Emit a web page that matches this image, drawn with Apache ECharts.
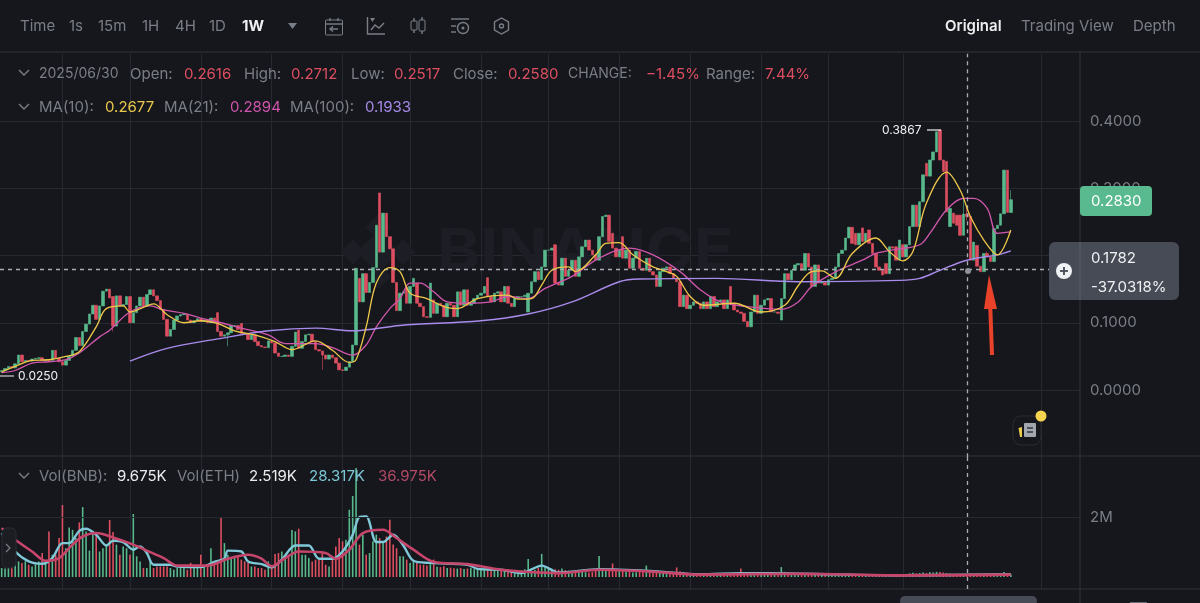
<!DOCTYPE html>
<html><head><meta charset="utf-8">
<script src="https://cdn.jsdelivr.net/npm/echarts@6/dist/echarts.min.js"></script>
<style>html,body{margin:0;padding:0;background:#16171d}#c{width:1200px;height:603px}</style>
</head><body><div id="c"></div>
<script>
const firstOpen = .027;
const closes = [
.029,.032,.035,.033,.039,.052,.042,.044,.043,.046,
.047,.048,.044,.045,.044,.059,.047,.042,.037,.044,
.050,.059,.078,.066,.087,.098,.113,.126,.105,.125,
.147,.150,.137,.095,.140,.125,.127,.139,.100,.115,
.125,.138,.125,.142,.149,.140,.133,.120,.105,.080,
.090,.104,.110,.112,.113,.104,.100,.103,.106,.102,
.104,.100,.107,.100,.087,.080,.082,.085,.096,.096,
.090,.084,.083,.075,.082,.072,.066,.064,.063,.073,
.070,.055,.050,.050,.052,.050,.065,.086,.062,.072,
.082,.083,.072,.060,.058,.052,.046,.052,.048,.040,
.030,.029,.034,.042,.067,.181,.131,.173,.145,.160,
.182,.245,.205,.263,.228,.210,.160,.118,.144,.146,
.129,.154,.166,.129,.124,.109,.108,.159,.114,.129,
.126,.109,.129,.126,.109,.146,.126,.149,.126,.129,
.136,.141,.144,.154,.139,.131,.144,.146,.131,.154,
.129,.124,.136,.139,.139,.141,.144,.161,.176,.164,
.183,.208,.208,.211,.159,.156,.196,.169,.178,.193,
.169,.198,.213,.223,.208,.201,.193,.228,.258,.260,
.221,.211,.198,.208,.196,.208,.181,.196,.206,.181,
.178,.196,.176,.171,.154,.176,.181,.183,.173,.166,
.161,.124,.141,.121,.126,.131,.129,.121,.131,.121,
.139,.124,.131,.134,.121,.134,.129,.119,.116,.114,
.102,.094,.116,.141,.114,.126,.134,.136,.116,.116,
.114,.136,.173,.164,.178,.186,.188,.178,.203,.183,
.154,.186,.159,.160,.156,.164,.166,.183,.203,.208,
.226,.242,.218,.216,.233,.221,.233,.218,.203,.183,
.178,.171,.173,.213,.211,.193,.223,.198,.216,.243,
.275,.243,.280,.320,.318,.342,.354,.384,.342,.325,
.265,.270,.248,.245,.230,.2616,.2580,.193,.220,.184,
.176,.203,.198,.191,.240,.245,.262,.327,.264,.283];
const openOverrides = {33:.139,64:.115,71:.099,88:.089,106:.166,112:.293,120:.153,123:.159,128:.134,144:.167,156:.116,164:.216,181:.233,184:.228,216:.154,231:.104,239:.203,253:.233,255:.241,257:.238,262:.188,265:.213,267:.216,274:.337,278:.3867,280:.340,281:.243,282:.263,283:.260,284:.260,289:.215};
const highWicks = {285:.285,286:.2712,292:.206,293:.200,299:.297};
const lowWicks = {0:.025,33:.087,67:.065,95:.030,240:.151,286:.2517,299:.265};
const ma10Weeks = [0,4,9,14,19,23,28,31,36,38,42,45,49,54,59,64,69,75,81,86,93,98,103,105,108,111,115,118,121,126,131,135,141,150,153,157,160,163,168,170,176,179,183,187,193,197,200,204,208,217,225,232,236,240,243,247,252,259,263,267,270,274,280,284,287,291,295,299];
const ma10 = [.027,.035,.044,.045,.050,.057,.094,.121,.125,.116,.123,.128,.112,.100,.103,.099,.088,.082,.072,.060,.073,.059,.041,.045,.094,.159,.182,.176,.144,.136,.124,.121,.136,.141,.135,.136,.156,.178,.183,.176,.201,.218,.219,.201,.183,.176,.169,.139,.126,.129,.116,.126,.155,.176,.177,.166,.203,.226,.206,.192,.206,.278,.324,.297,.258,.223,.201,.238];
const ma21Weeks = [0,4,9,14,19,23,29,32,38,44,48,54,59,65,71,79,84,93,98,104,108,111,115,118,121,124,128,132,138,145,150,156,161,169,177,186,193,201,207,213,221,231,236,240,248,255,259,265,272,275,280,285,288,292,295,299];
const ma21 = [.026,.029,.040,.042,.045,.055,.079,.089,.116,.125,.119,.114,.107,.100,.092,.082,.069,.069,.063,.052,.067,.094,.121,.136,.159,.159,.146,.131,.129,.131,.139,.136,.151,.169,.196,.211,.201,.176,.149,.131,.124,.120,.131,.154,.178,.193,.203,.209,.216,.233,.268,.285,.285,.270,.233,.235];
const ma100Weeks = [38,49,64,79,93,104,118,142,156,169,183,189,212,236,266,272,278,286,295,299];
const ma100 = [.043,.062,.076,.088,.092,.088,.096,.103,.113,.131,.161,.165,.166,.161,.163,.166,.178,.193,.201,.207];
const volumesK = [
300,280,300,400,580,520,470,520,410,350,
410,520,800,520,1520,740,740,1300,2400,960,
1650,1570,1300,1820,2330,1520,880,1520,1430,850,
960,1080,1900,1500,1080,740,1020,960,740,2100,
690,520,300,300,520,300,350,350,350,350,
300,240,300,300,300,240,470,300,300,740,
350,410,960,470,520,1990,1130,740,630,690,
690,580,520,470,350,350,300,300,240,520,
350,770,800,850,690,740,1570,1520,1610,740,
740,630,520,580,630,850,410,350,630,1020,
1300,1190,1240,2240,2700,3630,1080,1410,740,800,
1190,1410,1300,1190,1350,1910,1080,960,690,690,
580,470,520,470,410,410,380,430,580,340,
330,360,300,310,290,280,300,270,280,300,
260,250,280,270,300,250,240,230,250,220,
220,210,240,200,220,260,600,210,240,300,
770,350,320,280,260,240,280,230,210,190,
180,170,190,160,150,170,200,700,280,230,
240,450,260,220,200,180,170,150,160,170,
190,380,180,160,150,140,150,130,130,140,
320,190,170,150,130,120,120,110,120,110,
100,110,120,100,100,110,100,90,100,280,
120,110,120,100,110,100,90,90,100,110,
130,330,170,150,130,130,120,110,110,100,
100,90,90,80,80,90,80,80,90,90,
100,110,100,90,90,80,80,80,70,80,
70,70,80,80,70,70,80,80,90,120,
140,120,130,150,130,160,150,170,170,150,
130,120,100,90,90,100,80,110,90,80,
80,90,70,70,110,100,90,170,130,90];
const volFastWeeks = [0,4,8,12,15,18,20,23,25,28,31,33,36,39,41,43,45,50,52,59,63,66,67,71,73,77,80,83,87,91,94,98,101,104,106,108,111,113,116,119,122,127,138,141,148,154,160,165,177,192,207,219,237,266,299];
const volFastK = [1465,850,520,440,630,1130,1130,1540,1610,1410,1050,1210,1165,910,1020,800,410,410,350,330,500,610,880,850,520,430,320,580,1050,1050,610,610,850,1410,2000,2020,1165,1165,1410,1050,540,470,410,270,240,130,380,150,260,200,90,130,110,60,90];
const volSlowWeeks = [0,4,9,13,17,21,24,28,33,39,43,48,52,61,67,73,77,80,84,88,96,99,103,107,113,117,122,128,138,148,165,177,192,207,237,266,299];
const volSlowK = [1630,1240,850,540,630,1080,1350,1465,1320,1080,880,630,380,380,610,740,610,355,630,850,800,610,910,1465,1575,1300,910,500,430,240,130,240,185,80,110,55,80];
const gridWeeks = [18,38,59,80,101,121,142,162,183,204,225,245,267,308];
const priceTicks = ['0.0000','0.1000','0.2000','0.3000','0.4000'];
const startDate = Date.UTC(2020,0,6);
const categories = [];
for (let k=0;k<320;k++){ const d=new Date(startDate+k*7*864e5);
  categories.push(d.getUTCFullYear()+'/'+String(d.getUTCMonth()+1).padStart(2,'0')+'/'+String(d.getUTCDate()).padStart(2,'0')); }
const crossWeek = categories[286];
const crossLevel = 0.1762;

const UP='#57b98c', DOWN='#dd4f60', GRID='#262931', SEP='#30333c', GRAY='#7a7e87', FONT='Inter, "Noto Sans", sans-serif';
let prev = firstOpen;
const candles = closes.map((c,k)=>{ const o=openOverrides[k]!==undefined?openOverrides[k]:prev; prev=c;
  const h = highWicks[k]!==undefined?highWicks[k]:Math.max(o,c);
  const l = lowWicks[k]!==undefined?lowWicks[k]:Math.min(o,c);
  return [o,c,l,h]; });
const vols = volumesK.map((v,k)=>({value:v*1000,itemStyle:{color:candles[k][1]>=candles[k][0]?UP:DOWN}}));
const pairs=(idx,vals,m=1)=>idx.map((k,j)=>[k,vals[j]*m]);

const T=(text,x,y,fill,size=14,weight=400)=>({type:'text',z:60,silent:true,style:{text,x,y,fill,font:`${weight} ${size}px ${FONT}`,verticalAlign:'middle'}});
const L=(x1,y1,x2,y2,stroke,w=1,z=60)=>({type:'line',z,silent:true,shape:{x1,y1,x2,y2},style:{stroke,lineWidth:w}});
const P=(points,stroke,w=1.4)=>({type:'polyline',z:60,silent:true,shape:{points},style:{stroke,lineWidth:w,fill:null}});
const R=(x,y,width,height,fill,r=0,stroke=null,z=60)=>({type:'rect',z,silent:true,shape:{x,y,width,height,r},style:{fill,stroke}});
const C=(cx,cy,r,fill,stroke=null,z=60)=>({type:'circle',z,silent:true,shape:{cx,cy,r},style:{fill,stroke,lineWidth:1.4}});
const G=[
 L(0,52,1200,52,SEP,1.2,1),L(0,456,1200,456,SEP,1.2,1),L(0,589,1200,589,SEP,1.2,1),L(1080,52,1080,603,SEP,1,1),
 // watermark
 {type:'text',z:1,silent:true,x:437,y:253,scaleX:1.12,style:{text:'BINANCE',x:0,y:0,fill:'#1d1e25',font:`700 58px ${FONT}`,verticalAlign:'middle'}},
 ...[[378,252,15],[353,252,9],[403,252,9],[378,227,9],[378,277,9]].map(([x,y,s])=>({type:'rect',z:1,silent:true,x,y,rotation:Math.PI/4,shape:{x:-s,y:-s,width:2*s,height:2*s},style:{fill:'#1d1e25'}})),
 // toolbar
 T('Time',20,26,GRAY,15),T('1s',69,26,GRAY,15),T('15m',98,26,GRAY,15),T('1H',142,26,GRAY,15),T('4H',175,26,GRAY,15),T('1D',209,26,GRAY,15),T('1W',242,26,'#f0f1f3',15,700),
 {type:'polygon',z:60,silent:true,shape:{points:[[288,23],[297,23],[292.5,29]]},style:{fill:GRAY}},
 R(325.5,20,17,15,null,1,GRAY),L(325.5,24,342.5,24,GRAY,1.4),L(330,18,330,21,GRAY,1.4),L(338,18,338,21,GRAY,1.4),P([[338,29],[330,29]],GRAY),P([[333,26.5],[330,29],[333,31.5]],GRAY),
 P([[367.5,17],[367.5,34],[385,34]],GRAY),P([[371,30],[375,25],[379,28],[384,23]],GRAY),{type:'polygon',z:60,silent:true,shape:{points:[[370,18],[375,18],[372.5,22]]},style:{fill:GRAY}},
 L(414,18,414,33,GRAY,1.4),R(411,21,6,9,'#16171d',1,GRAY),L(422,17,422,34,GRAY,1.4),R(419,20,6,11,'#16171d',1,GRAY),
 L(451,19,469,19,GRAY,1.4),L(451,26,456,26,GRAY,1.4),L(451,32,456,32,GRAY,1.4),C(463,28,5.5,null,GRAY),C(463,28,1.5,GRAY),
 {type:'polygon',z:60,silent:true,shape:{points:[[501.5,18],[508.5,22],[508.5,30],[501.5,34],[494.5,30],[494.5,22]]},style:{fill:null,stroke:GRAY,lineWidth:1.4}},C(501.5,26,2,null,GRAY),
 T('Original',945,26,'#eceded',15,600),T('Trading View',1021,26,GRAY,15),T('Depth',1133,26,GRAY,15),
 // OHLC row
 P([[19,70],[24,75],[29,70]],GRAY),
 T('2025/06/30',39,74,GRAY),T('Open:',130,74,GRAY,15),T('0.2616',184,74,DOWN,15),T('High:',244,74,GRAY,15),T('0.2712',291,74,DOWN,15),T('Low:',351,74,GRAY,15),T('0.2517',394,74,DOWN,15),T('Close:',453,74,GRAY,15),T('0.2580',508,74,DOWN,15),T('CHANGE:',568,74,GRAY),T('−1.45%',646,74,DOWN,15),T('Range:',706,74,GRAY,15),T('7.44%',765,74,DOWN,15),
 P([[19,104],[24,109],[29,104]],GRAY),
 T('MA(10):',39,107,GRAY,15),T('0.2677',105,107,'#e9c84b',15),T('MA(21):',164,107,GRAY,15),T('0.2894',230,107,'#cf55ac',15),T('MA(100):',290,107,GRAY,15),T('0.1933',365,107,'#a58ae6',15),
 // volume row
 P([[19,473],[24,478],[29,473]],GRAY),
 T('Vol(BNB):',39,476,GRAY,15),T('9.675K',117,476,'#eceded',15),T('Vol(ETH)',177,476,GRAY,15),T('2.519K',249,476,'#eceded',15),T('28.317K',309,476,'#7cc7d6',15),T('36.975K',378,476,'#b34a66',15),
 // extreme labels
 T('0.3867',882,130,'#f0f1f3',12),L(927,130,941,130,'#f0f1f3',1.2),T('0.0250',18,376,'#f0f1f3',12),L(0,376,14,376,'#cfcfd4',1.2),
 // price tag + crosshair box
 R(1080,186,72,30,'#5aba8f',4),T('0.2830',1091,201,'#ffffff',15),
 R(1049,242,130,58,'#474b56',6),L(1080,242,1080,300,'#5b5f6a',1,61),C(1064,271,8,'#f0f1f3',null,61),L(1060,271,1068,271,'#474b56',1.8,62),L(1064,267,1064,275,'#474b56',1.8,62),
 T('0.1782',1091,258,'#f0f1f3',15),T('-37.0318%',1091,287,'#f0f1f3',15),
 C(968,271,3,'#8f929a'),
 // arrow
 L(992,355,990,300,'#e8432a',4,70),{type:'polygon',z:70,silent:true,shape:{points:[[989,275],[997,309],[984,309]]},style:{fill:'#e8432a'}},
 // news icon
 R(1013,416,28,29,'#16171d',8,'#2a2d35'),R(1024,423,12,14,'#a2a6af',1),L(1027,428,1033,428,'#16171d',1.2,61),L(1027,432,1033,432,'#16171d',1.2,61),{type:'polygon',z:60,silent:true,shape:{points:[[1018.5,428],[1022,427],[1022,437],[1020,437]]},style:{fill:'#e9c84b'}},C(1041,416,5.5,'#f5d44f'),
 // side button and scrollbar
 R(2,528,14,40,'#1b1d23',5,'#2a2d35'),P([[6,544],[10,548],[6,552]],GRAY,1.2),
 R(900,596,137,10,'#474b56',5),R(1130,602,17,3,'#6a6e78',0)
];
const chart=echarts.init(document.getElementById('c'),null,{renderer:'canvas'});
const xa=(gridIndex)=>({type:'category',gridIndex,data:categories,boundaryGap:true,axisLine:{show:false},axisTick:{show:false},axisLabel:{show:false},
  splitLine:{show:true,alignWithLabel:true,lineStyle:{color:GRID,width:1},interval:(k)=>gridWeeks.includes(k)}});
const cross={silent:true,symbol:'none',label:{show:false},animation:false,lineStyle:{color:'#a9acb3',type:[4,4],width:1.3}};
chart.setOption({
 animation:false,backgroundColor:'#16171d',
 textStyle:{fontFamily:FONT},
 grid:[{left:0,right:120,top:53.75,height:403.5},{left:0,right:120,top:456,height:133}],
 xAxis:[xa(0),xa(1)],
 yAxis:[
  {type:'value',gridIndex:0,position:'right',min:-0.1,max:0.5,interval:0.1,axisLine:{show:false},axisTick:{show:false},
   axisLabel:{color:GRAY,fontSize:15,margin:10,fontFamily:FONT,formatter:v=>{const s=v.toFixed(4);return priceTicks.includes(s)?s:'';}},
   splitLine:{show:true,showMinLine:false,showMaxLine:false,lineStyle:{color:GRID,width:1}}},
  {type:'value',gridIndex:1,position:'right',min:-400000,max:4033333,axisLine:{show:false},axisTick:{show:false},splitLine:{show:false},
   axisLabel:{color:GRAY,fontSize:15,margin:10,fontFamily:FONT,customValues:[2000000],formatter:v=>(v/1e6)+'M'}}
 ],
 series:[
  {type:'candlestick',name:'Price',xAxisIndex:0,yAxisIndex:0,data:candles,barWidth:3,z:3,
   itemStyle:{color:UP,color0:DOWN,borderColor:UP,borderColor0:DOWN,borderWidth:0.6},
   markLine:Object.assign({},cross,{data:[{yAxis:crossLevel},{xAxis:crossWeek}]})},
  {type:'line',name:'MA(10)',xAxisIndex:0,yAxisIndex:0,data:pairs(ma10Weeks,ma10),smooth:0.35,showSymbol:false,z:5,lineStyle:{color:'#efc84a',width:1.3}},
  {type:'line',name:'MA(21)',xAxisIndex:0,yAxisIndex:0,data:pairs(ma21Weeks,ma21),smooth:0.35,showSymbol:false,z:4,lineStyle:{color:'#d157ad',width:1.3}},
  {type:'line',name:'MA(100)',xAxisIndex:0,yAxisIndex:0,data:pairs(ma100Weeks,ma100),smooth:0.35,showSymbol:false,z:4,lineStyle:{color:'#a88bea',width:1.4}},
  {type:'bar',name:'Vol',xAxisIndex:1,yAxisIndex:1,data:vols,barWidth:1.6,z:3,
   markLine:{silent:true,symbol:'none',label:{show:false},lineStyle:{color:GRID,type:'solid',width:1},data:[{yAxis:2000000}]}},
  {type:'line',name:'VolFast',xAxisIndex:1,yAxisIndex:1,data:pairs(volFastWeeks,volFastK,1000),smooth:0.3,showSymbol:false,z:4,lineStyle:{color:'#7fc9d8',width:2.4}},
  {type:'line',name:'VolSlow',xAxisIndex:1,yAxisIndex:1,data:pairs(volSlowWeeks,volSlowK,1000),smooth:0.3,showSymbol:false,z:5,lineStyle:{color:'#c6466b',width:2.6},
   markLine:Object.assign({},cross,{data:[{xAxis:crossWeek}]})}
 ],
 graphic:{elements:G}
});
</script></body></html>
